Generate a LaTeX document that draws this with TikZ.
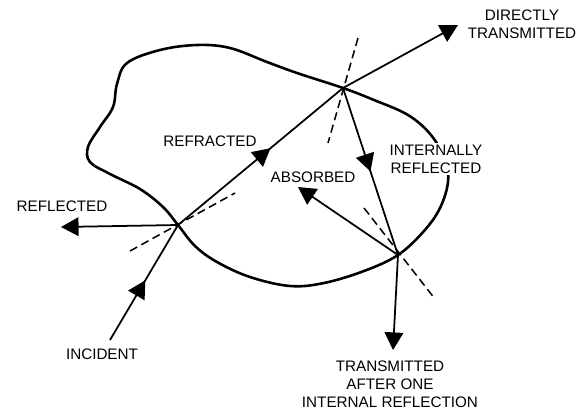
\documentclass[tikz,border=0pt]{standalone}
\usepackage{fontspec}
\setmainfont{Liberation Sans}
\usetikzlibrary{arrows.meta}
\usetikzlibrary{decorations.markings}

\begin{document}
\begin{tikzpicture}[x=0.03cm,y=-0.03cm,
  ray/.style={line width=1.5pt,-{Triangle[length=15pt,width=16pt]}},
  midray/.style={line width=1.5pt,postaction={decorate,decoration={markings,
    mark=at position #1 with {\arrow{Triangle[length=15pt,width=16pt]}}}}},
  normal/.style={line width=1.3pt,dash pattern=on 7pt off 4pt},
  lbl/.style={font=\fontsize{13}{15.5}\selectfont,align=center,inner sep=1pt}]
\useasboundingbox (0,0) rectangle (582,416);

% the particle
\draw[line width=2.2pt] plot[smooth cycle,tension=0.6] coordinates {
 (343,88) (374,100) (408,115) (431,135) (445,160) (448,182) (440,208)
 (424,231) (398,255) (364,271) (324,283) (290,286) (250,277) (217,262)
 (195,246) (178,225) (163,207) (140,189) (110,174) (90,162) (88,147)
 (100,127) (113,107) (117,84) (127,63) (160,50) (197,45) (230,48)
 (267,62) (297,73)};

% points on the surface
\coordinate (A) at (178,225);
\coordinate (B) at (343,88);
\coordinate (C) at (398,255);

% ray ends
\coordinate (inc) at (110,340);
\coordinate (refl) at (61,227);
\coordinate (dir) at (458,25);
\coordinate (abs) at (298,187);
\coordinate (out) at (393,350);

% normals
\coordinate (nA1) at (130,251);
\coordinate (nA2) at (235,193);
\coordinate (nB1) at (358,38);
\coordinate (nB2) at (328,143);
\coordinate (nC1) at (364,208);
\coordinate (nC2) at (435,299);
\draw[normal] (nA1) -- (nA2);
\draw[normal] (nB1) -- (nB2);
\draw[normal] (nC1) -- (nC2);

% rays
\draw[midray=0.52] (inc) -- (A);
\draw[ray] (A) -- (refl);
\draw[midray=0.56] (A) -- (B);
\draw[ray] (B) -- (dir);
\draw[midray=0.5] (B) -- (C);
\draw[ray] (C) -- (abs);
\draw[ray] (C) -- (out);

% labels
\node[lbl] (tdir) at (522,24) {DIRECTLY\\TRANSMITTED};
\node[lbl] (trefr) at (210,141) {REFRACTED};
\node[lbl,fill=white] (tint) at (436,159) {INTERNALLY\\REFLECTED};
\node[lbl] (tabs) at (313,177) {ABSORBED};
\node[lbl] (trefl) at (62,206) {REFLECTED};
\node[lbl] (tinc) at (102,354) {INCIDENT};
\node[lbl] (tout) at (390,384) {TRANSMITTED\\AFTER ONE\\INTERNAL REFLECTION};

\end{tikzpicture}
\end{document}
